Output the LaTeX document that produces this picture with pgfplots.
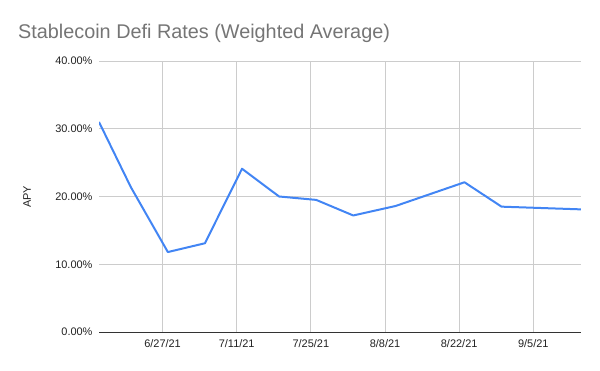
\documentclass[border=0pt]{standalone}
\usepackage{pgfplots}
\pgfplotsset{compat=1.18}
\usepackage{fontspec}
\setmainfont{Liberation Sans}
\definecolor{gblue}{HTML}{4285F4}
\definecolor{ggrid}{HTML}{CCCCCC}
\definecolor{gtitle}{HTML}{757575}
\definecolor{gtext}{HTML}{222222}
\begin{document}
\begin{tikzpicture}
\path[use as bounding box] (0bp,0bp) rectangle (600bp,371bp);
\node[anchor=base west, text=gtitle, font=\fontsize{19.9}{23}\selectfont, inner sep=0pt] at (18bp,332bp) {Stablecoin Defi Rates (Weighted Average)};
\node[rotate=90, anchor=center, text=gtext, font=\fontsize{11}{13}\selectfont, inner sep=0pt] at (27bp,174bp) {APY};
\begin{axis}[
  at={(99bp,39bp)}, anchor=south west,
  scale only axis, width=482bp, height=271bp,
  xmin=-12, xmax=79, ymin=0, ymax=40,
  axis line style={draw=none},
  major tick length=0pt,
  grid=major, grid style={ggrid, line width=0.8bp},
  xtick={0,14,28,42,56,70},
  xticklabels={6/27/21,7/11/21,7/25/21,8/8/21,8/22/21,9/5/21},
  ytick={0,10,20,30,40},
  yticklabels={0.00\%,10.00\%,20.00\%,30.00\%,40.00\%},
  extra y ticks={0}, extra y tick labels={},
  extra y tick style={grid style={black!80, line width=1bp}},
  ticklabel style={font=\fontsize{11}{13}\selectfont, text=gtext},
  xticklabel style={yshift=-4bp},
  yticklabel style={xshift=-3bp},
]
\addplot[gblue, line width=2bp, line join=round] coordinates {
(-12,31.0) (-6,21.4) (1,11.8) (8,13.1) (15,24.1) (22,20.0) (29,19.5)
(36,17.2) (44,18.6) (57,22.1) (64,18.5) (79,18.1)
};
\end{axis}
\end{tikzpicture}
\end{document}
